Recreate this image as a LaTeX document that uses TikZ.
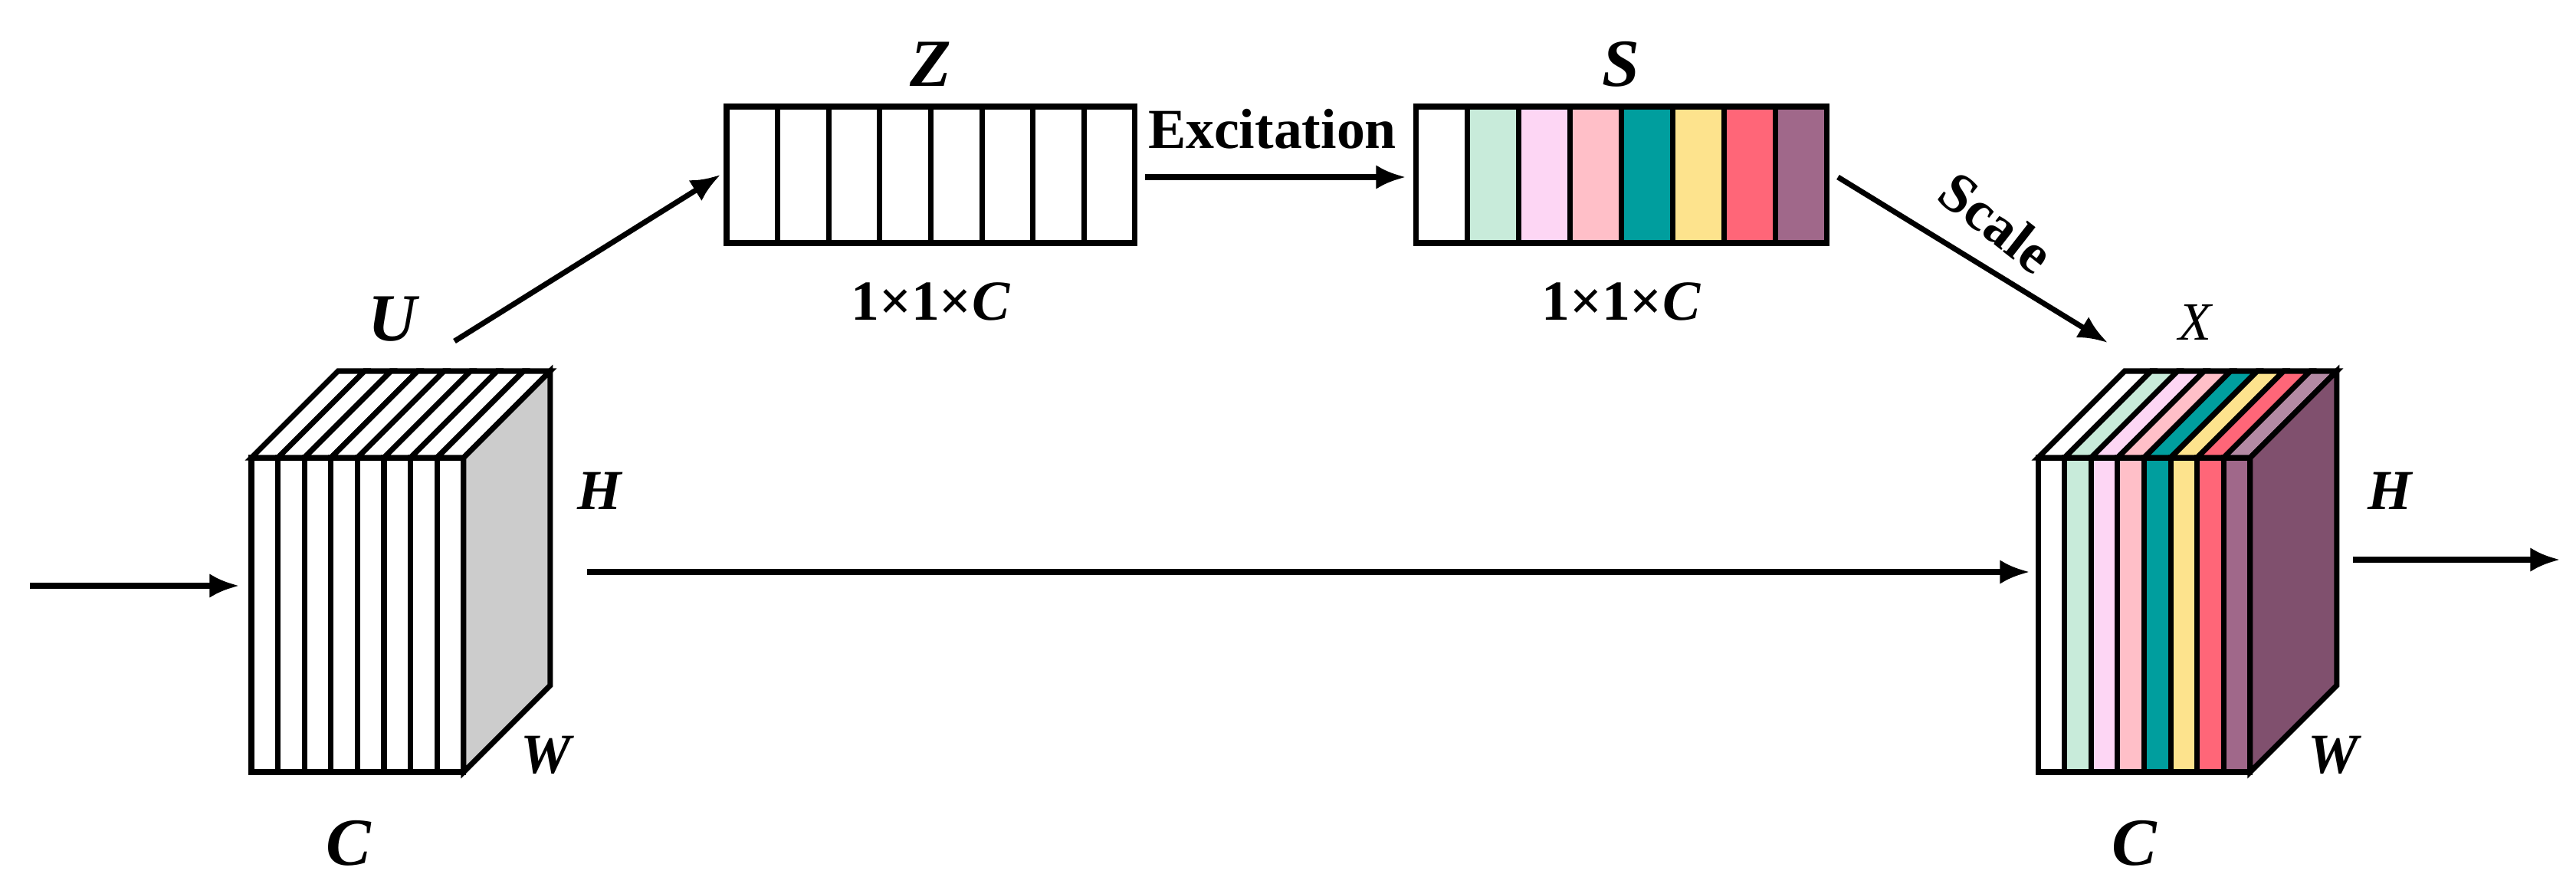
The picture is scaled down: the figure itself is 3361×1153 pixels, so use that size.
\documentclass[tikz,border=0pt]{standalone}
\usepackage{fontspec}
\setmainfont{Liberation Serif}
\begin{document}
\begin{tikzpicture}[x=0.02cm,y=-0.02cm,line join=miter,
  ln/.style={line width=4pt},
  arr/.style={line width=4pt,-{Latex[length=22pt,width=18pt]}},
  big/.style={font=\fontsize{50}{54}\selectfont\bfseries\itshape},
  mid/.style={font=\fontsize{42}{46}\selectfont\bfseries\itshape},
  dim/.style={font=\fontsize{42}{46}\selectfont\bfseries}]
\usetikzlibrary{arrows.meta}
\useasboundingbox (0,0) rectangle (3361,1153);
\definecolor{c1}{HTML}{FFFFFF}\definecolor{c2}{HTML}{C8EBDA}\definecolor{c3}{HTML}{FDD6F4}
\definecolor{c4}{HTML}{FFBFC8}\definecolor{c5}{HTML}{009E9E}\definecolor{c6}{HTML}{FDE38D}
\definecolor{c7}{HTML}{FF6678}\definecolor{c8}{HTML}{A0688A}\definecolor{side}{HTML}{80506E}
\definecolor{c8t}{HTML}{B48AA4}
% left cube
\def\fx{328}\def\fy{597}\def\sw{34.6}\def\fh{410}\def\dd{113}
\foreach \i in {0,...,7}{
  \draw[ln,fill=white] (\fx+\i*\sw,\fy) rectangle (\fx+\i*\sw+\sw,\fy+\fh);
  \draw[ln,fill=white] (\fx+\i*\sw,\fy) -- ++(\dd,-\dd) -- ++(\sw,0) -- (\fx+\i*\sw+\sw,\fy) -- cycle;}
\draw[ln,fill=black!20] (\fx+8*\sw,\fy) -- ++(\dd,-\dd) -- ++(0,\fh) -- (\fx+8*\sw,\fy+\fh) -- cycle;
% right cube
\def\gx{2659}
\foreach \i/\c/\t in {0/c1/c1,1/c2/c2,2/c3/c3,3/c4/c4,4/c5/c5,5/c6/c6,6/c7/c7,7/c8/c8t}{
  \draw[ln,fill=\c] (\gx+\i*\sw,\fy) rectangle (\gx+\i*\sw+\sw,\fy+\fh);
  \draw[ln,fill=\t] (\gx+\i*\sw,\fy) -- ++(\dd,-\dd) -- ++(\sw,0) -- (\gx+\i*\sw+\sw,\fy) -- cycle;}
\draw[ln,fill=side] (\gx+8*\sw,\fy) -- ++(\dd,-\dd) -- ++(0,\fh) -- (\gx+8*\sw,\fy+\fh) -- cycle;
% Z and S boxes
\foreach \i in {0,...,7}
  \draw[ln,fill=white] (948+\i*66.6,139) rectangle (948+\i*66.6+66.6,317);
\foreach \i/\c in {0/c1,1/c2,2/c3,3/c4,4/c5,5/c6,6/c7,7/c8}
  \draw[ln,fill=\c] (1847+\i*67,139) rectangle (1847+\i*67+67,317);
% labels
\node[big] (U) at (512,416) {U};
\node[big] (Z) at (1214,84) {Z};
\node[big] (S) at (2115,84) {S};
\node[big] (C1) at (455,1100) {C};
\node[big] (C2) at (2785,1100) {C};
\node[mid] (H1) at (782,640) {H};
\node[mid] (W1) at (712,985) {W};
\node[mid] (H2) at (3118,640) {H};
\node[mid] (W2) at (3044,985) {W};
\node[font=\fontsize{40}{44}\selectfont\itshape] (X) at (2864,420) {X};
\node[dim] (d1) at (1214,393) {1×1×\textit{C}};
\node[dim] (d2) at (2115,393) {1×1×\textit{C}};
\node[dim] (ex) at (1660,168) {Excitation};
\node[dim,rotate=-38] (sc) at (2605,290) {Scale};
% arrows
\coordinate (a0) at (39,764); \coordinate (a1) at (312,764);
\coordinate (m0) at (766,746); \coordinate (m1) at (2648,746);
\coordinate (o0) at (3070,730); \coordinate (o1) at (3340,730);
\coordinate (u0) at (593,445); \coordinate (u1) at (940,228);
\coordinate (e0) at (1494,231); \coordinate (e1) at (1834,231);
\coordinate (s0) at (2398,231); \coordinate (s1) at (2750,447);
\draw[arr] (a0) -- (a1);
\draw[arr] (m0) -- (m1);
\draw[arr] (o0) -- (o1);
\draw[arr] (u0) -- (u1);
\draw[arr] (e0) -- (e1);
\draw[arr] (s0) -- (s1);
\end{tikzpicture}
\end{document}
